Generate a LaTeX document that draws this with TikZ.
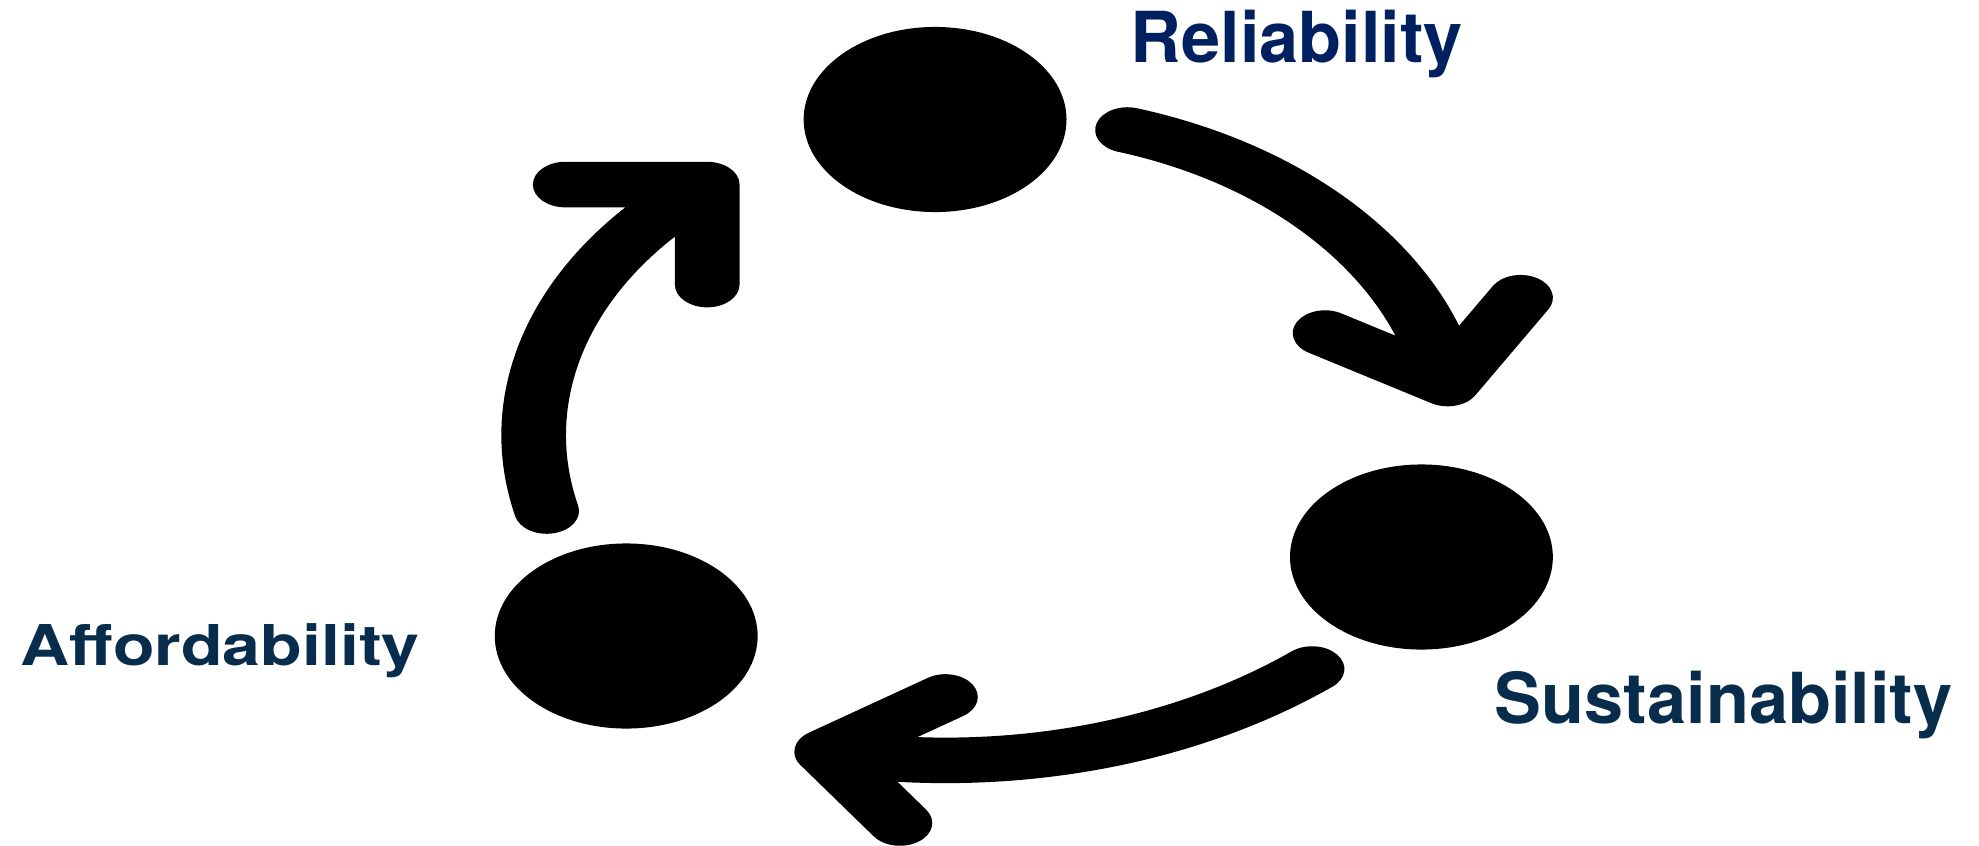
\documentclass[tikz,border=0pt]{standalone}
\usepackage{fontspec}
\usepackage{graphicx}
\newfontfamily\tagfont{TeX Gyre Heros}
\definecolor{relnavy}{RGB}{0,32,96}
\definecolor{tagnavy}{RGB}{8,44,76}
\usetikzlibrary{positioning}

\begin{document}
\begin{tikzpicture}[x=0.01cm, y=-0.01cm,
  hub/.style={circle, fill=black, minimum size=1.85cm, inner sep=0pt},
  loopline/.style={line width=0.455cm, line cap=round, line join=round},
  tag/.style={font=\tagfont\bfseries\fontsize{20pt}{24pt}\selectfont, text=tagnavy, inner sep=0pt, anchor=base west}
]
  \useasboundingbox (0,0) rectangle (1979,845);

  % the black parts are drawn round, then pulled wide
  \begin{scope}[transform canvas={xscale=1.42}]
    \node[hub] (rel) at (658.5,119.5) {};
    \node[hub] (sus) at (1001,557) {};
    \node[hub] (aff) at (441,636) {};

    \coordinate (relend) at (794,130);
    \coordinate (susend) at (924,669);
    \coordinate (affend) at (385,511);

    \draw[loopline] (relend) arc[start angle=-72.9, end angle=-10.4, radius=327] coordinate (sustip)
      ++(-149.7:100) -- (sustip) -- ++(-59.1:100);
    \draw[loopline] (susend) arc[start angle=51, end angle=101.8, radius=410] coordinate (afftip)
      ++(-33.2:100) -- (afftip) -- ++(54.1:88);
    \draw[loopline] (affend) arc[start angle=-193.8, end angle=-128, radius=318] coordinate (reltip)
      ++(180:100) -- (reltip) -- ++(90:100);
  \end{scope}

  \node[tag, text=relnavy] (reltag) at (1130,62) {Reliability};
  \node[tag] (sustag) at (1494,723) {Sustainability};
  \node[tag, font=\tagfont\bfseries\fontsize{16pt}{19pt}\selectfont] (afftag) at (20,665) {\scalebox{1.21}[1]{Affordability}};
\end{tikzpicture}
\end{document}
